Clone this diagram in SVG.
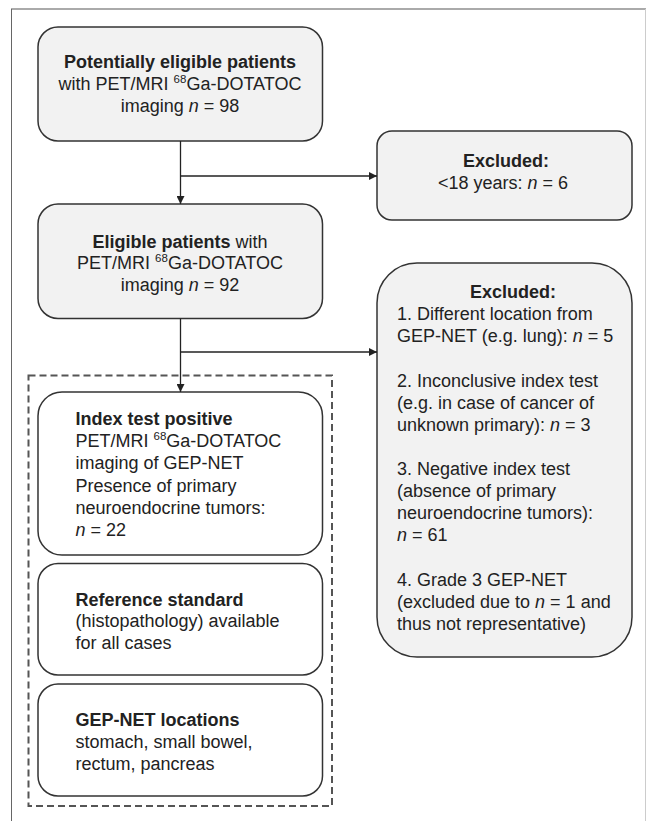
<svg xmlns="http://www.w3.org/2000/svg" width="648" height="821" viewBox="0 0 648 821">
<defs>
<marker id="ah" viewBox="0 0 10 10" refX="10" refY="5" markerWidth="8" markerHeight="8" markerUnits="userSpaceOnUse" orient="auto">
<path d="M0,0 L10,5 L0,10 z" fill="#222"/>
</marker>
<style>
text{font-family:"Liberation Sans",Arial,sans-serif;font-size:18px;fill:#222}
.b{font-weight:bold}
.c{text-anchor:middle}
.gray{fill:#f2f2f2;stroke:#333;stroke-width:1.5}
.white{fill:#fff;stroke:#333;stroke-width:1.5}
.conn{stroke:#222;stroke-width:1.3;fill:none}
.sup{font-size:11.5px}
</style>
</defs>
<rect width="648" height="821" fill="#fff"/>
<g id="frame">
<line x1="11" y1="9" x2="646" y2="9" stroke="#aaa" stroke-width="2"/>
<line x1="11.5" y1="9" x2="11.5" y2="821" stroke="#666" stroke-width="1"/>
<line x1="645.5" y1="9" x2="645.5" y2="821" stroke="#ccc" stroke-width="1"/>
</g>
<g id="dashed-group">
<rect x="28.5" y="375.5" width="303.5" height="430.5" fill="none" stroke="#555" stroke-width="2" stroke-dasharray="7,4"/>
</g>
<g id="n1">
<rect class="gray" x="38" y="27" width="284.5" height="114" rx="20"/>
<text class="c b" x="180" y="68">Potentially eligible patients</text>
<text class="c" x="180" y="90">with PET/MRI <tspan class="sup" dy="-7">68</tspan><tspan dy="7">Ga-DOTATOC</tspan></text>
<text class="c" x="180" y="112">imaging <tspan font-style="italic">n</tspan> = 98</text>
</g>
<g id="n2">
<rect class="gray" x="377" y="131" width="255" height="89" rx="15"/>
<text class="c b" x="506" y="167">Excluded:</text>
<text class="c" x="503" y="189">&lt;18 years: <tspan font-style="italic">n</tspan> = 6</text>
</g>
<g id="n3">
<rect class="gray" x="38" y="204" width="284.5" height="114.5" rx="20"/>
<text class="c" x="180" y="248"><tspan class="b">Eligible patients</tspan> with</text>
<text class="c" x="180" y="269">PET/MRI <tspan class="sup" dy="-7">68</tspan><tspan dy="7">Ga-DOTATOC</tspan></text>
<text class="c" x="180" y="291">imaging <tspan font-style="italic">n</tspan> = 92</text>
</g>
<g id="n4">
<rect class="gray" x="377" y="263" width="255" height="394" rx="40"/>
<text class="c b" x="513" y="298">Excluded:</text>
<text x="397" y="320">1. Different location from</text>
<text x="397" y="342">GEP-NET (e.g. lung): <tspan font-style="italic">n</tspan> = 5</text>
<text x="397" y="386.5">2. Inconclusive index test</text>
<text x="397" y="408.5">(e.g. in case of cancer of</text>
<text x="397" y="430.5">unknown primary): <tspan font-style="italic">n</tspan> = 3</text>
<text x="397" y="475">3. Negative index test</text>
<text x="397" y="497">(absence of primary</text>
<text x="397" y="519">neuroendocrine tumors):</text>
<text x="397" y="541"><tspan font-style="italic">n</tspan> = 61</text>
<text x="397" y="586">4. Grade 3 GEP-NET</text>
<text x="397" y="608">(excluded due to <tspan font-style="italic">n</tspan> = 1 and</text>
<text x="397" y="630">thus not representative)</text>
</g>
<g id="n5">
<rect class="white" x="38" y="392" width="284.5" height="163" rx="24"/>
<text class="b" x="75.5" y="425">Index test positive</text>
<text x="75.5" y="447">PET/MRI <tspan class="sup" dy="-7">68</tspan><tspan dy="7">Ga-DOTATOC</tspan></text>
<text x="75.5" y="469">imaging of GEP-NET</text>
<text x="75.5" y="491.5">Presence of primary</text>
<text x="75.5" y="513.5">neuroendocrine tumors:</text>
<text x="75.5" y="535.5"><tspan font-style="italic">n</tspan> = 22</text>
</g>
<g id="n6">
<rect class="white" x="38" y="563.5" width="284.5" height="111.5" rx="20"/>
<text class="b" x="75.5" y="605.5">Reference standard</text>
<text x="75.5" y="627">(histopathology) available</text>
<text x="75.5" y="649">for all cases</text>
</g>
<g id="n7">
<rect class="white" x="38" y="684" width="284.5" height="112" rx="20"/>
<text class="b" x="75.5" y="726">GEP-NET locations</text>
<text x="75.5" y="748">stomach, small bowel,</text>
<text x="75.5" y="770">rectum, pancreas</text>
</g>
<g id="connectors">
<line class="conn" x1="180.5" y1="141" x2="180.5" y2="204" marker-end="url(#ah)"/>
<line class="conn" x1="180.5" y1="176" x2="377" y2="176" marker-end="url(#ah)"/>
<line class="conn" x1="180.5" y1="318.5" x2="180.5" y2="392" marker-end="url(#ah)"/>
<line class="conn" x1="180.5" y1="352" x2="377" y2="352" marker-end="url(#ah)"/>
</g>
</svg>
